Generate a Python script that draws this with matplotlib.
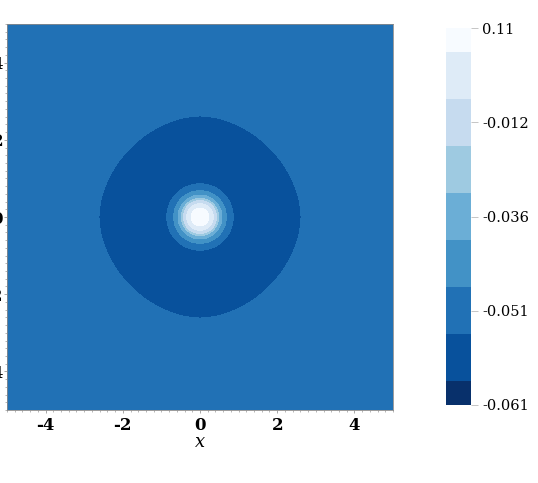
import numpy as np
import matplotlib
matplotlib.use("Agg")
import matplotlib.pyplot as plt
from matplotlib.ticker import MultipleLocator

plt.rcParams['font.family'] = ['DejaVu Serif']
plt.rcParams['axes.unicode_minus'] = False

# colorbar tick positions (0..1 along the bar) and their labels
cbar_pos = [0.0, 0.25, 0.5, 0.75, 1.0]
cbar_vals = [-0.061, -0.051, -0.036, -0.012, 0.11]
cbar_labels = ['-0.061', '-0.051', '-0.036', '-0.012', '0.11']

# field parameters
base_level = -0.050      # outer plateau
dip_depth = 0.0065       # dark rounded-square region
dip_width = 2.95
dip_pnorm = 1.85
peak_core = 0.1025       # narrow flat-top core at the origin
peak_core_w = 0.34
peak_halo = 0.064        # broader halo around the core
peak_halo_w = 0.49

xticks = [-4, -2, 0, 2, 4]
yticks = [-4, -2, 0, 2, 4]

blues9 = ['#f7fbff', '#deebf7', '#c6dbef', '#9ecae1', '#6baed6',
          '#4292c6', '#2171b5', '#08519c', '#08306b'][::-1]

x = np.linspace(-5, 5, 501)
y = np.linspace(-5, 5, 501)
X, Y = np.meshgrid(x, y)
r = np.sqrt(X**2 + Y**2)
rho = (np.abs(X)**dip_pnorm + np.abs(Y)**dip_pnorm)**(1 / dip_pnorm)

Z = (base_level
     - dip_depth * np.exp(-(rho / dip_width)**4)
     + peak_core * np.exp(-(r / peak_core_w)**4)
     + peak_halo * np.exp(-(r / peak_halo_w)**2))

# colour scale is uniform in bar position, not in value
Zn = np.interp(Z, cbar_vals, cbar_pos)
levels = [0.0] + [(2 * k + 1) / 16 for k in range(8)] + [1.0]

fig = plt.figure(figsize=(5.38, 4.83), dpi=100)
ax = fig.add_axes([7 / 538, 1 - 410 / 483, 386 / 538, 386 / 483])
cf = ax.contourf(X, Y, Zn, levels=levels, colors=blues9)

ax.set_xlim(-5, 5)
ax.set_ylim(-5, 5)
ax.set_xticks(xticks)
ax.set_yticks(yticks)
ax.xaxis.set_minor_locator(MultipleLocator(0.2))
ax.yaxis.set_minor_locator(MultipleLocator(0.2))
ax.tick_params(which='major', length=2.5, width=0.6, color='#999999')
ax.tick_params(which='minor', length=1.5, width=0.5, color='#999999')
ax.tick_params(axis='x', which='major', pad=2.5)
ax.tick_params(axis='y', which='major', pad=0.3)
for lab in ax.get_xticklabels() + ax.get_yticklabels():
    lab.set_fontweight('bold')
    lab.set_fontsize(12)
for sp in ax.spines.values():
    sp.set_color('#8a8a8a')
    sp.set_linewidth(0.6)
ax.set_xlabel('x', fontsize=13, fontstyle='italic', labelpad=-1)

cax = fig.add_axes([446 / 538, 1 - 405 / 483, 25 / 538, 377 / 483])
cb = fig.colorbar(cf, cax=cax, ticks=cbar_pos, spacing='proportional')
cb.ax.set_yticklabels(cbar_labels)
cb.outline.set_visible(False)
cb.ax.tick_params(length=5, width=0.6, color='#bbbbbb', pad=3, labelsize=10.5)

fig.savefig('out.png', dpi=100)
